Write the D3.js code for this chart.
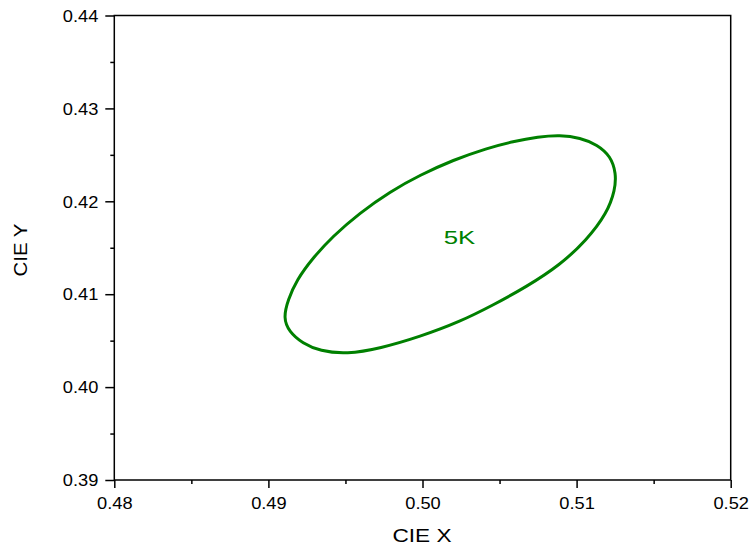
<!DOCTYPE html>
<html>
<head>
<meta charset="utf-8">
<script src="https://cdn.jsdelivr.net/npm/d3@7"></script>
<style>
body{margin:0;background:#fff;}
text{font-family:Arial,"Liberation Sans",sans-serif;}
</style>
</head>
<body>
<svg id="c" width="750" height="550"></svg>
<script>
// Ellipse outline points (CIE x, CIE y)
const ellipseX = [0.49097,0.49127,0.49184,0.49288,0.49418,0.49592,0.49789,0.49984,0.50200,0.50417,0.50589,0.50751,0.50892,0.51024,0.51134,0.51222,0.51256,0.51250,0.51197,0.51066,0.50892,0.50676,0.50459,0.50243,0.49984,0.49724,0.49508,0.49335,0.49222,0.49134];
const ellipseY = [0.40744,0.40938,0.41155,0.41390,0.41624,0.41874,0.42104,0.42283,0.42445,0.42571,0.42645,0.42694,0.42713,0.42684,0.42610,0.42483,0.42301,0.42122,0.41871,0.41583,0.41314,0.41081,0.40884,0.40704,0.40543,0.40416,0.40355,0.40388,0.40470,0.40596];
const labelText = "5K";
const labelPos = [0.5024, 0.4154];
const xTicks = [0.48,0.49,0.50,0.51,0.52];
const yTicks = [0.39,0.40,0.41,0.42,0.43,0.44];
const xMinor = [0.485,0.495,0.505,0.515];
const yMinor = [0.395,0.405,0.415,0.425,0.435];

const svg = d3.select("#c");
const L=114.3, R=730.7, T=15.5, B=480;
const x = d3.scaleLinear().domain([0.48,0.52]).range([L,R]);
const y = d3.scaleLinear().domain([0.39,0.44]).range([B,T]);

// frame
svg.append("rect").attr("x",L).attr("y",T).attr("width",R-L).attr("height",B-T)
  .attr("fill","none").attr("stroke","#000").attr("stroke-width",1.5);

// axes
const fmt = d3.format(".2f");
const xa = svg.append("g").attr("transform",`translate(0,${B})`)
  .call(d3.axisBottom(x).tickValues(xTicks).tickFormat(fmt).tickSize(8).tickSizeOuter(0));
const xm = svg.append("g").attr("transform",`translate(0,${B})`)
  .call(d3.axisBottom(x).tickValues(xMinor).tickFormat("").tickSize(4).tickSizeOuter(0));
const ya = svg.append("g").attr("transform",`translate(${L},0)`)
  .call(d3.axisLeft(y).tickValues(yTicks).tickFormat(fmt).tickSize(9).tickSizeOuter(0));
const ym = svg.append("g").attr("transform",`translate(${L},0)`)
  .call(d3.axisLeft(y).tickValues(yMinor).tickFormat("").tickSize(4).tickSizeOuter(0));
[xa,xm,ya,ym].forEach(g=>{
  g.select(".domain").remove();
  g.selectAll("line").attr("stroke","#000").attr("stroke-width",1.5);
  g.selectAll("text").attr("font-size",16).attr("fill","#000")
    .attr("textLength",35.5).attr("lengthAdjust","spacingAndGlyphs")
    .style("font-family","Arial,'Liberation Sans',sans-serif");
});
xa.selectAll("text").attr("y",29).attr("dy",null);
ya.selectAll("text").attr("x",-16).attr("dy","0.36em");

// ellipse
const pts = ellipseX.map((v,i)=>[v,ellipseY[i]]);
const line = d3.line().x(d=>x(d[0])).y(d=>y(d[1])).curve(d3.curveBasisClosed);
svg.append("path").attr("d",line(pts)).attr("fill","none").attr("stroke","#008000").attr("stroke-width",3);

svg.append("text").attr("x",x(labelPos[0])).attr("y",y(labelPos[1])).attr("text-anchor","middle")
  .attr("font-size",18.5).attr("fill","#008000")
  .attr("textLength",31.5).attr("lengthAdjust","spacingAndGlyphs").text(labelText);

// axis titles
svg.append("text").attr("x",422).attr("y",542).attr("text-anchor","middle").attr("font-size",18)
  .attr("textLength",59).attr("lengthAdjust","spacingAndGlyphs").text("CIE X");
svg.append("text").attr("transform",`translate(27.3,250) rotate(-90)`).attr("text-anchor","middle").attr("font-size",18)
  .attr("textLength",53).attr("lengthAdjust","spacingAndGlyphs").text("CIE Y");
</script>
</body>
</html>
